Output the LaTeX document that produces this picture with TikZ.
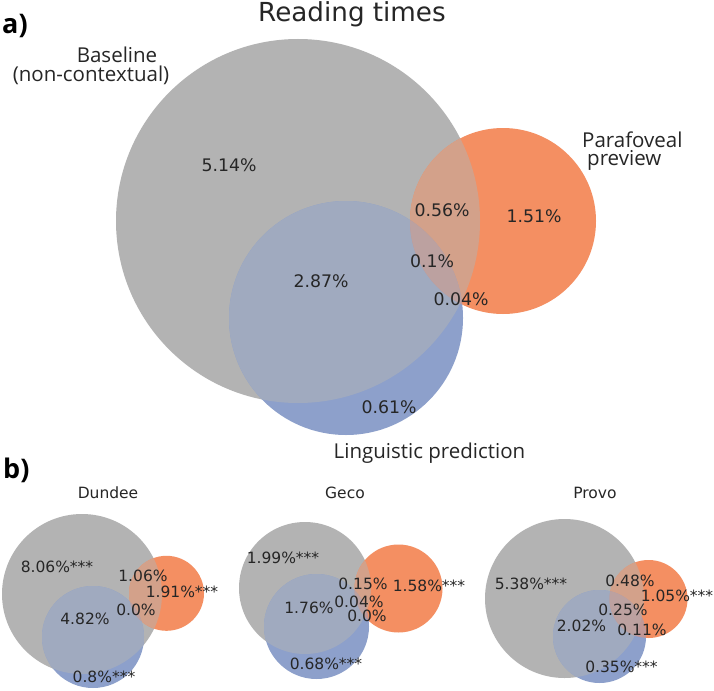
\documentclass[tikz,border=0pt]{standalone}
\usepackage{fontspec}
\setmainfont{DejaVu Sans}
\newfontfamily\osans{Open Sans}
\definecolor{cA}{HTML}{B3B3B3}
\definecolor{cB}{HTML}{F48F62}
\definecolor{cC}{HTML}{8DA0CB}
\colorlet{cAB}{cA!50!cB}
\colorlet{cAC}{cA!50!cC}
\colorlet{cBC}{cB!50!cC}
\colorlet{cABC}{cAB!67!cC}
\definecolor{txt}{HTML}{262626}
\newcommand\drawvenn[9]{%
  \fill[cA] (#1,#2) circle[radius=#3];
  \fill[cB] (#4,#5) circle[radius=#6];
  \fill[cC] (#7,#8) circle[radius=#9];
  \begin{scope}
    \clip (#1,#2) circle[radius=#3];
    \fill[cAB] (#4,#5) circle[radius=#6];
    \fill[cAC] (#7,#8) circle[radius=#9];
  \end{scope}
  \begin{scope}
    \clip (#4,#5) circle[radius=#6];
    \fill[cBC] (#7,#8) circle[radius=#9];
  \end{scope}
  \begin{scope}
    \clip (#1,#2) circle[radius=#3];
    \clip (#4,#5) circle[radius=#6];
    \fill[cABC] (#7,#8) circle[radius=#9];
  \end{scope}}
\tikzset{
  pct/.style={font=\fontsize{17.3}{20}\selectfont, text=txt, inner sep=0pt},
  spct/.style={font=\fontsize{15.5}{18}\selectfont, text=txt, inner sep=0pt},
  lab/.style={font=\osans\fontsize{20.5}{17.5}\selectfont, text=txt, inner sep=0pt, anchor=base},
  panel/.style={font=\osans\bfseries\fontsize{27}{30}\selectfont, text=black, inner sep=0pt, anchor=base west},
  ttl/.style={font=\fontsize{26.2}{30}\selectfont, text=txt, inner sep=0pt, anchor=base},
  sttl/.style={font=\fontsize{15.5}{18}\selectfont, text=txt, inner sep=0pt, anchor=base}
}
\begin{document}
\begin{tikzpicture}[x=1pt,y=-1pt]
\fill[white] (0,0) rectangle (714,690);
\useasboundingbox (0,0) rectangle (714,690);

% ---- panel a ----
\drawvenn{298}{221}{182}{503}{221}{93}{346}{318}{117}
\node[ttl] (title) at (352,21.7) {Reading times};
\node[panel] (pa) at (2,34) {a)};
\node[lab] (base1) at (117,63) {Baseline};
\node[lab] (base2) at (91,81.5) {(non-contextual)};
\node[lab, align=left, anchor=base west] (para) at (582,165.3) {Parafoveal\\\hspace*{5pt}preview};
\node[lab] (ling) at (429.5,458) {Linguistic prediction};
\node[pct] (a1) at (229,165) {5.14\%};
\node[pct] (a2) at (442,210) {0.56\%};
\node[pct] (a3) at (534,216) {1.51\%};
\node[pct] (a4) at (432,261) {0.1\%};
\node[pct] (a5) at (321,281) {2.87\%};
\node[pct] (a6) at (461,299) {0.04\%};
\node[pct] (a7) at (389,407) {0.61\%};

% ---- panel b ----
\node[panel] (pb) at (3,478) {b)};
% Dundee
\drawvenn{82}{594}{80}{166.5}{593.3}{37.5}{93}{637}{51}
\node[sttl] (dun) at (108,498) {Dundee};
\node[spct] (d1) at (57,567) {8.06\%***};
\node[spct] (d2) at (143,576) {1.06\%};
\node[spct] (d3) at (182,592) {1.91\%***};
\node[spct] (d4) at (136,610) {0.0\%};
\node[spct] (d5) at (85,619) {4.82\%};
\node[spct] (d6) at (104,677) {0.8\%***};
% Geco
\drawvenn{305}{588}{66}{398.5}{588.5}{44}{316.5}{626.5}{52.5}
\node[sttl] (geco) at (345,498) {Geco};
\node[spct] (g1) at (283,558) {1.99\%***};
\node[spct] (g2) at (363,584) {0.15\%};
\node[spct] (g3) at (429,586) {1.58\%***};
\node[spct] (g4) at (309,608) {1.76\%};
\node[spct] (g5) at (359,602) {0.04\%};
\node[spct] (g6) at (367,616) {0.0\%};
\node[spct] (g7) at (326,664) {0.68\%***};
% Provo
\drawvenn{564.5}{598.5}{79.5}{648.5}{599}{39}{599.5}{636.5}{46.5}
\node[sttl] (provo) at (595,498) {Provo};
\node[spct] (p1) at (531,583.5) {5.38\%***};
\node[spct] (p2) at (630,581) {0.48\%};
\node[spct] (p3) at (677,596) {1.05\%***};
\node[spct] (p4) at (623,610) {0.25\%};
\node[spct] (p5) at (581.5,626) {2.02\%};
\node[spct] (p6) at (642,629.5) {0.11\%};
\node[spct] (p7) at (621.5,667) {0.35\%***};
\end{tikzpicture}
\end{document}
